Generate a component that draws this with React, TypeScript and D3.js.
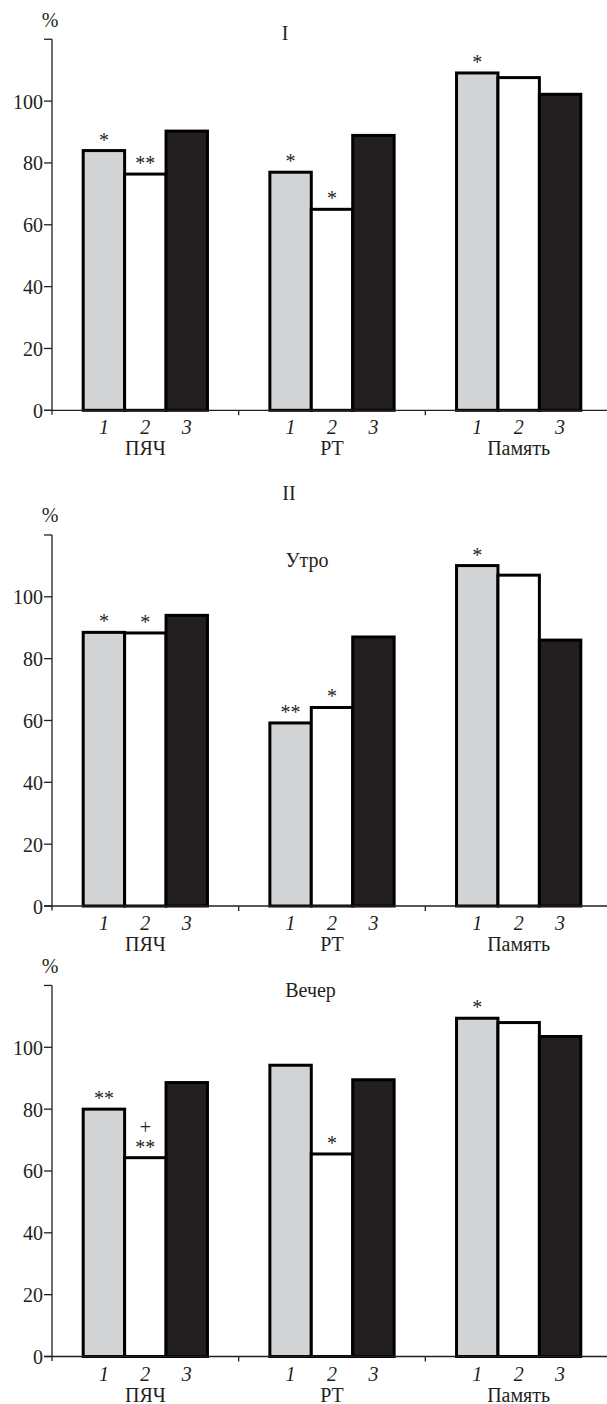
import React from "react";
import * as d3 from "d3";

// ---- data ----
const groups = ["ПЯЧ", "РТ", "Память"];
const seriesLabels = ["1", "2", "3"];
const yTicks = [0, 20, 40, 60, 80, 100, 120];

const panel1Values = [
  [84, 76.4, 90.3],
  [77, 65, 88.9],
  [109.1, 107.6, 102.2],
];
const panel2Values = [
  [88.5, 88.3, 94],
  [59.2, 64.2, 87],
  [110.1, 107, 86],
];
const panel3Values = [
  [80, 64.3, 88.6],
  [94.2, 65.5, 89.5],
  [109.4, 108, 103.5],
];

const panel1Marks = [
  ["*", "**", ""],
  ["*", "*", ""],
  ["*", "", ""],
];
const panel2Marks = [
  ["*", "*", ""],
  ["**", "*", ""],
  ["*", "", ""],
];
const panel3Marks = [
  ["**", "+|**", ""],
  ["", "*", ""],
  ["*", "", ""],
];

const panelTitles = ["I", "II", "II"];
const panelSubtitles = ["", "Утро", "Вечер"];

// ---- layout (not data) ----
const W = 607;
const H = 1404;
const AXIS_X = 52;
const INK = "#231f20";
const FILLS = ["#d1d3d4", "#ffffff", "#231f20"];
const FONT = '"Liberation Serif", "Times New Roman", "DejaVu Serif", serif';

const panelLayout = [
  { y0: 410.3, title: { x: 285, y: 39.5 }, sub: null },
  { y0: 906, title: { x: 289, y: 500 }, sub: { x: 307, y: 567 } },
  { y0: 1356.5, title: null, sub: { x: 310.5, y: 997 } },
];

const PX_PER_UNIT = 3.092;

const txt: React.CSSProperties = { fontFamily: FONT, fontSize: 20, fill: INK };

function Panel({ idx, values, marks }: { idx: number; values: number[][]; marks: string[][] }) {
  const lay = panelLayout[idx];
  const y = d3
    .scaleLinear()
    .domain([0, 120])
    .range([lay.y0, lay.y0 - 120 * PX_PER_UNIT]);
  const xg = d3.scaleBand().domain(groups).range([AXIS_X, 612]).padding(0);
  const bw = xg.bandwidth();
  const xb = d3.scaleBand().domain(seriesLabels).range([31.2, bw - 31.2]).padding(0);

  const yTop = y(120);
  const y0 = y(0);

  return (
    <g>
      {groups.map((g, gi) =>
        seriesLabels.map((s, si) => {
          const x = (xg(g) as number) + (xb(s) as number);
          const v = values[gi][si];
          return (
            <rect
              key={g + s}
              x={x}
              y={y(v)}
              width={xb.bandwidth()}
              height={y0 - y(v)}
              fill={FILLS[si]}
              stroke="#000"
              strokeWidth={3}
            />
          );
        })
      )}
      <line x1={AXIS_X} x2={AXIS_X} y1={yTop} y2={y0 + 4.5} stroke={INK} strokeWidth={1.3} />
      <line x1={AXIS_X - 8} x2={W} y1={y0} y2={y0} stroke={INK} strokeWidth={1.3} />
      {yTicks.map((t) => (
        <g key={t}>
          <line x1={AXIS_X - 8} x2={AXIS_X} y1={y(t)} y2={y(t)} stroke={INK} strokeWidth={1.3} />
          {t <= 100 && (
            <text x={AXIS_X - 9} y={y(t) + 7.5} textAnchor="end" style={txt}>
              {t}
            </text>
          )}
        </g>
      ))}
      {groups.map((g) => (
        <line
          key={"bt" + g}
          x1={(xg(g) as number) + bw}
          x2={(xg(g) as number) + bw}
          y1={y0}
          y2={y0 + 5}
          stroke={INK}
          strokeWidth={1.3}
        />
      ))}
      <text x={50} y={yTop - 12.5} textAnchor="middle" style={txt}>
        %
      </text>
      {groups.map((g) => (
        <g key={"lab" + g}>
          {seriesLabels.map((s) => (
            <text
              key={s}
              x={(xg(g) as number) + (xb(s) as number) + xb.bandwidth() / 2}
              y={y0 + 24}
              textAnchor="middle"
              style={{ ...txt, fontStyle: "italic" }}
            >
              {s}
            </text>
          ))}
          <text x={(xg(g) as number) + bw / 2} y={y0 + 45} textAnchor="middle" style={txt}>
            {g}
          </text>
        </g>
      ))}
      {groups.map((g, gi) =>
        seriesLabels.map((s, si) => {
          const m = marks[gi][si];
          if (!m) return null;
          const cx = (xg(g) as number) + (xb(s) as number) + xb.bandwidth() / 2;
          const base = y(values[gi][si]) - 4;
          const lines = m.split("|").reverse();
          return (
            <g key={"m" + g + s}>
              {lines.map((ln, li) => (
                <text key={li} x={cx} y={base - li * 20} textAnchor="middle" style={txt}>
                  {ln}
                </text>
              ))}
            </g>
          );
        })
      )}
      {lay.title && (
        <text x={lay.title.x} y={lay.title.y} textAnchor="middle" style={txt}>
          {panelTitles[idx]}
        </text>
      )}
      {lay.sub && (
        <text x={lay.sub.x} y={lay.sub.y} textAnchor="middle" style={txt}>
          {panelSubtitles[idx]}
        </text>
      )}
    </g>
  );
}

export default function App() {
  return (
    <svg
      width={W}
      height={H}
      viewBox={`0 0 ${W} ${H}`}
      style={{ position: "absolute", left: 0, top: 0, background: "#fff" }}
    >
      <rect x={0} y={0} width={W} height={H} fill="#fff" />
      <Panel idx={0} values={panel1Values} marks={panel1Marks} />
      <Panel idx={1} values={panel2Values} marks={panel2Marks} />
      <Panel idx={2} values={panel3Values} marks={panel3Marks} />
    </svg>
  );
}
